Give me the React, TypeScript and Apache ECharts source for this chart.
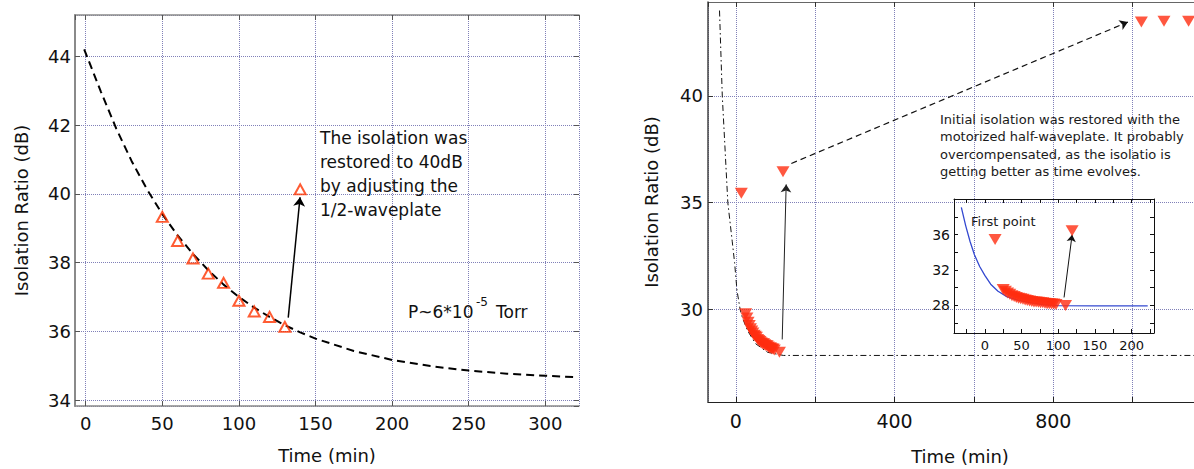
import React, { useEffect, useRef } from 'react';
import * as echarts from 'echarts';

// ---------- Left panel data ----------
const leftTriX = [50, 60, 70, 80, 90, 100, 110, 120, 130, 140];
const leftTriY = [39.33, 38.63, 38.12, 37.68, 37.41, 36.89, 36.58, 36.42, 36.13, 40.13];
const leftFitX = [-1, 10, 20, 30, 40, 50, 60, 70, 80, 90, 100, 110, 120, 130, 140, 150, 175, 200, 225, 250, 275, 300, 320];
const leftFitY = [44.2, 42.96, 41.89, 40.95, 40.13, 39.41, 38.79, 38.25, 37.78, 37.36, 37.0, 36.69, 36.42, 36.18, 35.97, 35.79, 35.43, 35.17, 34.99, 34.86, 34.77, 34.71, 34.67];
const leftArrowFrom = [132.2, 36.4];
const leftArrowTo = [139.9, 39.9];

// ---------- Right panel data ----------
const rightTriX = [14, 25, 28, 31, 34, 37, 40, 43, 46, 49, 52, 55, 58, 61, 64, 67, 70, 73, 76, 79, 82, 85, 88, 91, 94, 97, 110, 119, 1022, 1079, 1141];
const rightTriY = [35.45, 29.8, 29.6, 29.4, 29.25, 29.1, 29.0, 28.9, 28.8, 28.75, 28.7, 28.6, 28.55, 28.5, 28.45, 28.4, 28.4, 28.35, 28.3, 28.3, 28.25, 28.2, 28.2, 28.15, 28.15, 28.1, 28.0, 36.45, 43.46, 43.5, 43.5];
const rightFitX = [-41, -34, -20, -9, -3, 3, 11, 17, 30, 50, 80, 120, 1200];
const rightFitY = [44.0, 40.0, 35.0, 33.2, 32.2, 30.9, 30.0, 29.6, 29.0, 28.4, 28.0, 27.85, 27.85];
const rightDashArrowFrom = [140, 36.84];
const rightDashArrowTo = [988, 43.46];
const rightArrowFrom = [117, 28.6];
const rightArrowTo = [127, 35.86];

// ---------- Inset data ----------
const insetFitX = [-32, -26, -20, -14, -7, 0, 8, 18, 30, 45, 60, 80, 100, 150, 222];
const insetFitY = [39.1, 37.0, 35.2, 33.7, 32.4, 31.4, 30.4, 29.6, 29.0, 28.6, 28.35, 28.1, 27.97, 27.95, 27.95];
const insetArrowFrom = [108, 28.9];
const insetArrowTo = [119, 36.0];

const FONT = '"DejaVu Sans", sans-serif';
const GRID_COLOR = '#8080b8';
const RED = '#ff2d10';

const near = (v: number, step: number) => Math.abs(v - Math.round(v / step) * step) < 1e-6;

export default function App() {
  const ref = useRef<HTMLDivElement>(null);

  useEffect(() => {
    if (!ref.current) return;
    const chart = echarts.init(ref.current, undefined, { renderer: 'svg' });

    const zip = (xs: number[], ys: number[]) => xs.map((x, i) => [x, ys[i]]);
    const insetTri = zip(rightTriX, rightTriY).filter((p) => p[0] <= 200);

    const gridSplit = { show: true, lineStyle: { color: GRID_COLOR, type: 'dotted', width: 1 } };
    const tickIn = (len: number, color: string) => ({ show: true, inside: true, length: len, lineStyle: { color, width: 1 } });
    const line = (show: boolean, color: string, width: number) => ({ show, onZero: false, lineStyle: { color, width } });

    const option: any = {
      animation: false,
      textStyle: { fontFamily: FONT },
      grid: [
        { left: 75, top: 15, width: 504, height: 391, outerBoundsMode: 'none' },
        { left: 708, top: 2, width: 504, height: 400, outerBoundsMode: 'none' },
        { left: 954, top: 199, width: 200, height: 134, outerBoundsMode: 'none' },
      ],
      xAxis: [
        {
          gridIndex: 0, type: 'value', min: -7, max: 322, splitNumber: 6, position: 'bottom',
          axisLine: line(true, '#8a8a8a', 1.5),
          axisTick: tickIn(5, '#555'),
          axisLabel: { fontSize: 18, margin: 8, color: '#111', fontFamily: FONT, showMinLabel: false, showMaxLabel: false,
            formatter: (v: number) => (near(v, 50) ? String(v) : '') },
          splitLine: gridSplit,
          name: 'Time (min)', nameLocation: 'middle', nameGap: 40,
          nameTextStyle: { fontSize: 18, color: '#111', fontFamily: FONT },
        },
        {
          gridIndex: 0, type: 'value', min: -7, max: 322, splitNumber: 6, position: 'top',
          axisLine: line(true, '#8a8a8a', 1.5),
          axisTick: tickIn(5, '#555'), axisLabel: { show: false }, splitLine: { show: false },
        },
        {
          gridIndex: 1, type: 'value', min: -70, max: 1200, splitNumber: 6, position: 'bottom',
          axisLine: line(true, '#222', 1.2),
          axisTick: tickIn(5, '#222'),
          axisLabel: { fontSize: 19, margin: 9, color: '#111', fontFamily: FONT, showMinLabel: false, showMaxLabel: false,
            formatter: (v: number) => (near(v, 400) && v < 1100 ? String(v) : '') },
          splitLine: gridSplit,
          name: 'Time (min)', nameLocation: 'middle', nameGap: 45,
          nameTextStyle: { fontSize: 18, color: '#111', fontFamily: FONT },
        },
        {
          gridIndex: 1, type: 'value', min: -70, max: 1200, splitNumber: 6, position: 'top',
          axisLine: line(true, '#666', 1),
          axisTick: tickIn(5, '#333'), axisLabel: { show: false }, splitLine: { show: false },
        },
        {
          gridIndex: 2, type: 'value', min: -42, max: 230.6, splitNumber: 5, position: 'bottom',
          axisLine: line(true, '#111', 1),
          axisTick: tickIn(4, '#111'),
          minorTick: { show: true, splitNumber: 2, length: 4, lineStyle: { color: '#111' } },
          axisLabel: { fontSize: 13, margin: 6, color: '#111', fontFamily: FONT, showMinLabel: false, showMaxLabel: false,
            formatter: (v: number) => (near(v, 50) ? String(v) : '') },
          splitLine: { show: false },
        },
        {
          gridIndex: 2, type: 'value', min: -42, max: 230.6, splitNumber: 5, position: 'top',
          axisLine: line(true, '#111', 1),
          axisTick: tickIn(4, '#111'),
          minorTick: { show: true, splitNumber: 2, length: 4, lineStyle: { color: '#111' } },
          axisLabel: { show: false }, splitLine: { show: false },
        },
      ],
      yAxis: [
        {
          gridIndex: 0, type: 'value', min: 33.83, max: 45.2, splitNumber: 5, position: 'left',
          axisLine: line(true, '#8a8a8a', 2),
          axisTick: tickIn(5, '#555'),
          axisLabel: { fontSize: 18, margin: 4, color: '#111', fontFamily: FONT, showMinLabel: false, showMaxLabel: false,
            formatter: (v: number) => (near(v, 2) ? String(v) : '') },
          splitLine: gridSplit,
          name: 'Isolation Ratio (dB)', nameLocation: 'middle', nameGap: 45,
          nameTextStyle: { fontSize: 18, color: '#111', fontFamily: FONT },
        },
        {
          gridIndex: 0, type: 'value', min: 33.83, max: 45.2, splitNumber: 5, position: 'right',
          axisLine: line(false, '#8a8a8a', 1),
          axisTick: tickIn(5, '#555'), axisLabel: { show: false }, splitLine: { show: false },
        },
        {
          gridIndex: 1, type: 'value', min: 25.67, max: 44.4, splitNumber: 4, position: 'left',
          axisLine: line(true, '#444', 1.5),
          axisTick: tickIn(5, '#333'),
          axisLabel: { fontSize: 18, margin: 5, color: '#111', fontFamily: FONT, showMinLabel: false, showMaxLabel: false,
            formatter: (v: number) => (near(v, 5) ? String(v) : '') },
          splitLine: gridSplit,
          name: 'Isolation Ratio (dB)', nameLocation: 'middle', nameGap: 48,
          nameTextStyle: { fontSize: 18, color: '#111', fontFamily: FONT },
        },
        {
          gridIndex: 2, type: 'value', min: 24.88, max: 40.04, splitNumber: 7, position: 'left',
          axisLine: line(true, '#111', 1),
          axisTick: tickIn(4, '#111'),
          axisLabel: { fontSize: 14, margin: 4, color: '#111', fontFamily: FONT, showMinLabel: false, showMaxLabel: false,
            formatter: (v: number) => (near(v, 4) && v < 39 ? String(v) : '') },
          splitLine: { show: false },
        },
        {
          gridIndex: 2, type: 'value', min: 24.88, max: 40.04, splitNumber: 7, position: 'right',
          axisLine: line(true, '#111', 1),
          axisTick: tickIn(4, '#111'), axisLabel: { show: false }, splitLine: { show: false },
        },
      ],
      series: [
        {
          type: 'line', xAxisIndex: 0, yAxisIndex: 0, data: zip(leftFitX, leftFitY), symbol: 'none',
          lineStyle: { color: '#000', width: 2, type: [8, 5] }, z: 2, silent: true,
        },
        {
          type: 'scatter', xAxisIndex: 0, yAxisIndex: 0, data: zip(leftTriX, leftTriY),
          symbol: 'triangle', symbolSize: [11, 10],
          itemStyle: { color: 'rgba(255,255,255,0)', borderColor: '#ff3300', borderWidth: 2 }, z: 3,
          markLine: {
            silent: true, symbol: ['none', 'arrow'], symbolSize: 9, label: { show: false },
            lineStyle: { color: '#000', width: 1.5, type: 'solid' },
            data: [[{ coord: leftArrowFrom }, { coord: leftArrowTo }]],
          },
        },
        {
          type: 'line', xAxisIndex: 2, yAxisIndex: 2, data: zip(rightFitX, rightFitY), symbol: 'none',
          lineStyle: { color: '#111', width: 1, type: [6, 3, 1.5, 3] }, z: 2, silent: true,
        },
        {
          type: 'scatter', xAxisIndex: 2, yAxisIndex: 2, data: zip(rightTriX, rightTriY),
          symbol: 'triangle', symbolRotate: 180, symbolSize: [13, 11],
          itemStyle: { color: RED }, z: 3,
          markLine: {
            silent: true, symbol: ['none', 'arrow'], symbolSize: 8, label: { show: false },
            data: [
              [{ coord: rightDashArrowFrom, lineStyle: { color: '#111', width: 1.2, type: [6, 4] } }, { coord: rightDashArrowTo }],
              [{ coord: rightArrowFrom, lineStyle: { color: '#222', width: 1, type: 'solid' } }, { coord: rightArrowTo }],
            ],
          },
        },
        {
          type: 'line', xAxisIndex: 4, yAxisIndex: 4, data: zip(insetFitX, insetFitY), symbol: 'none',
          lineStyle: { color: '#3348d0', width: 1.3 }, z: 4, silent: true,
        },
        {
          type: 'scatter', xAxisIndex: 4, yAxisIndex: 4, data: insetTri,
          symbol: 'triangle', symbolRotate: 180, symbolSize: [13, 11],
          itemStyle: { color: RED }, z: 5,
          markLine: {
            silent: true, symbol: ['none', 'arrow'], symbolSize: 7, label: { show: false },
            lineStyle: { color: '#111', width: 1, type: 'solid' },
            data: [[{ coord: insetArrowFrom }, { coord: insetArrowTo }]],
          },
        },
      ],
      graphic: [
        {
          type: 'text', left: 320, top: 126, z: 10,
          style: { text: 'The isolation was\nrestored to 40dB\nby adjusting the\n1/2-waveplate', font: `17px ${FONT}`, lineHeight: 24, fill: '#111' },
        },
        { type: 'text', x: 408, y: 312, z: 10, style: { text: 'P~6*10', font: `17px ${FONT}`, fill: '#111', align: 'left', verticalAlign: 'middle', textAlign: 'left', textVerticalAlign: 'middle' } },
        { type: 'text', x: 476, y: 302, z: 10, style: { text: '-5', font: `12px ${FONT}`, fill: '#111', align: 'left', verticalAlign: 'middle', textAlign: 'left', textVerticalAlign: 'middle' } },
        { type: 'text', x: 496, y: 312, z: 10, style: { text: 'Torr', font: `17px ${FONT}`, fill: '#111', align: 'left', verticalAlign: 'middle', textAlign: 'left', textVerticalAlign: 'middle' } },
        {
          type: 'text', left: 940, top: 111, z: 10,
          style: { text: 'Initial isolation was restored with the\nmotorized half-waveplate. It probably\novercompensated, as the isolatio is\ngetting better as time evolves.', font: `13px ${FONT}`, lineHeight: 17.3, fill: '#1a1a1a' },
        },
        { type: 'text', x: 971, y: 221, z: 10, style: { text: 'First point', font: `13px ${FONT}`, fill: '#1a1a1a', align: 'left', verticalAlign: 'middle', textAlign: 'left', textVerticalAlign: 'middle' } },
      ],
    };

    chart.setOption(option);
    return () => chart.dispose();
  }, []);

  return <div ref={ref} style={{ position: 'absolute', left: 0, top: 0, width: 1194, height: 469, background: '#fff' }} />;
}
